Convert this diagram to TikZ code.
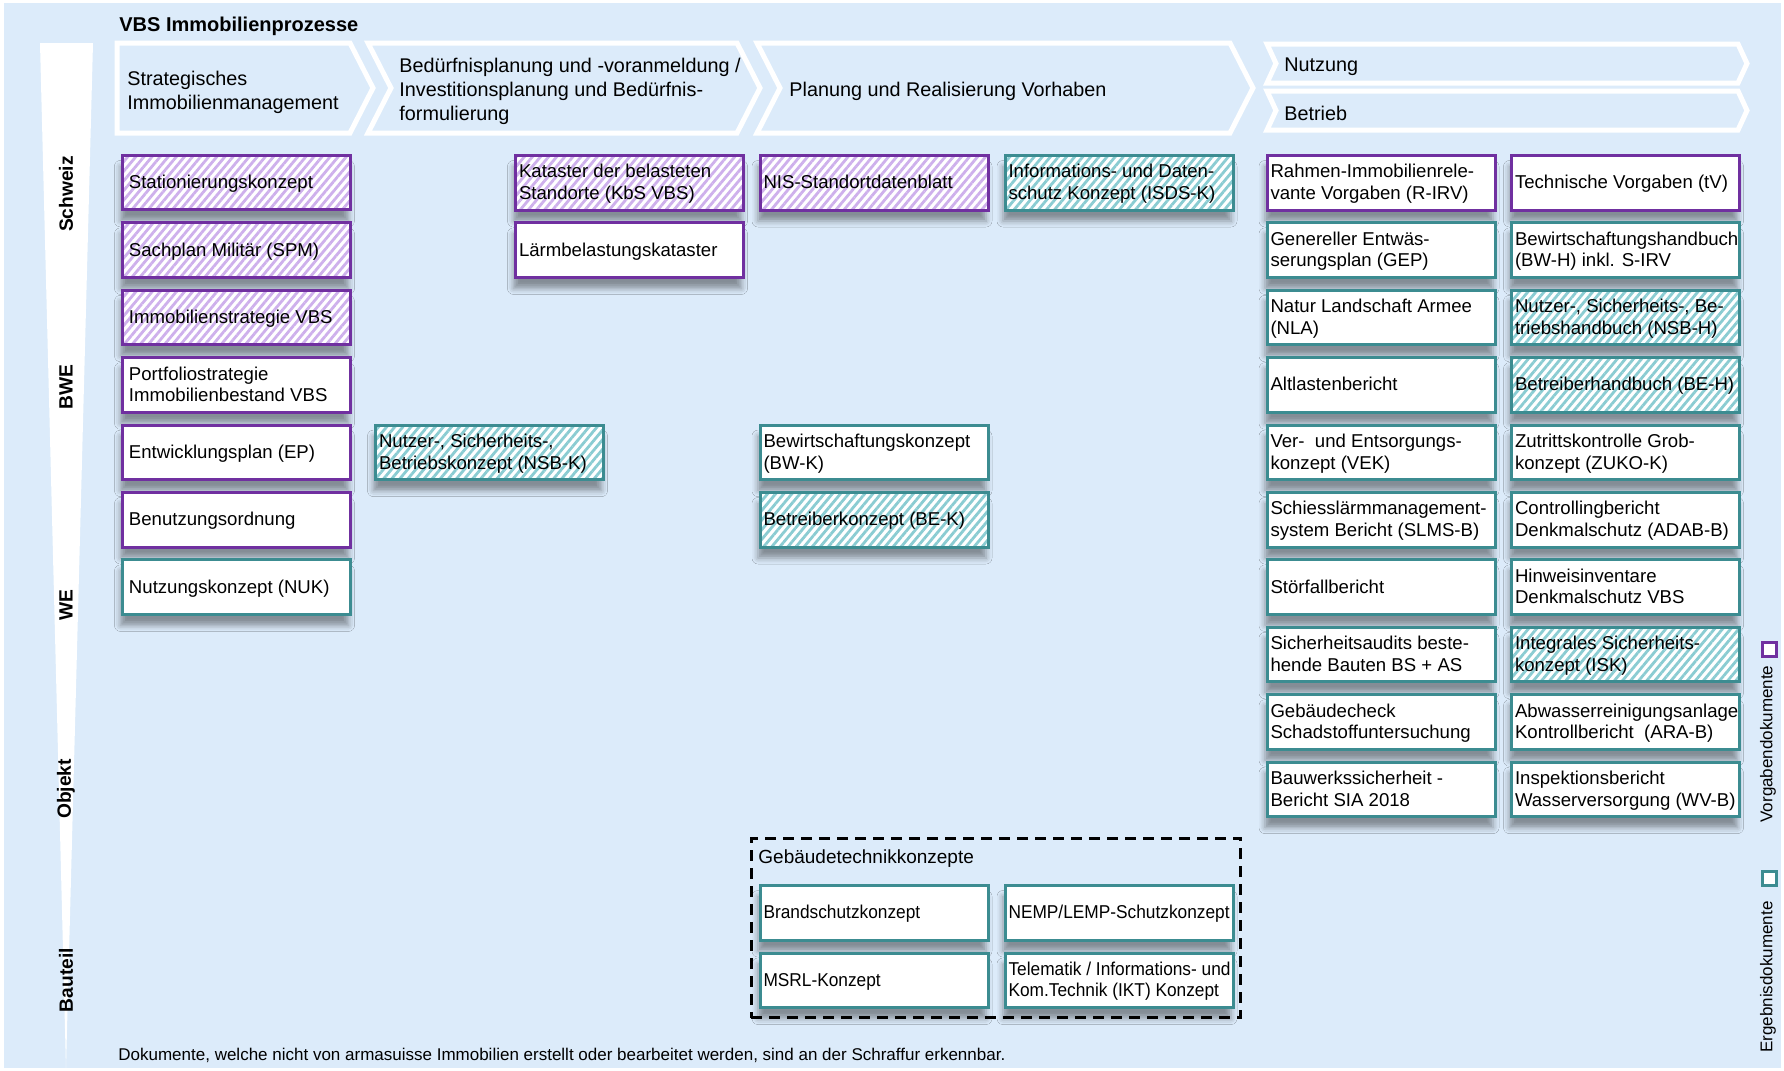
\documentclass[tikz,border=0pt]{standalone}
\usepackage{fontspec}
\setmainfont{Liberation Sans}
\usetikzlibrary{patterns.meta,shadows.blur}
\definecolor{bgblue}{RGB}{220,235,250}
\definecolor{vpurple}{HTML}{7030A0}
\definecolor{phatch}{RGB}{206,176,236}
\definecolor{vteal}{RGB}{60,140,145}
\definecolor{thatch}{RGB}{138,204,210}
\newcommand\docpad{0pt}
\newcommand\docsc{1}
\newcommand\doctext[1]{\raisebox{0pt}[\dimexpr\height+1.6pt\relax][\depth]{\makebox[110.5pt][l]{\hspace*{\docpad}\scalebox{\docsc}[1]{\begin{tabular}{@{}l@{}}#1\end{tabular}}}}}
\tikzset{
  doc/.style={draw, line width=1.5pt, minimum width=114pt, minimum height=27.25pt,
    inner xsep=1.75pt, inner ysep=0pt, anchor=north west,
    font=\fontsize{9.3}{10.8}\selectfont,
    blur shadow={shadow xshift=-1pt, shadow yshift=-5.5pt, shadow blur radius=3pt, shadow opacity=40}},
  pw/.style={doc, draw=vpurple, fill=white},
  ph/.style={doc, draw=vpurple, preaction={fill=white},
    pattern={Lines[angle=50,distance=3.1pt,line width=1.4pt]}, pattern color=phatch},
  tw/.style={doc, draw=vteal, fill=white},
  th/.style={doc, draw=vteal, preaction={fill=white},
    pattern={Lines[angle=50,distance=3.1pt,line width=1.4pt]}, pattern color=thatch},
  acol/.style={execute at begin node={\def\docpad{1.5pt}}},
  cond/.style={execute at begin node={\def\docsc{0.93}}},
  chev/.style={draw=white, line width=2.5pt, fill=bgblue, line join=miter},
  hdr/.style={anchor=west, align=left, inner sep=0pt, font=\fontsize{9.9}{12}\selectfont},
  lvl/.style={rotate=90, inner sep=0pt, font=\bfseries\fontsize{9.6}{11}\selectfont},
  legtxt/.style={rotate=90, inner sep=0pt, font=\fontsize{8.5}{10}\selectfont}
}
\begin{document}
\begin{tikzpicture}[x=0.5pt,y=-0.5pt]
\useasboundingbox (0,0) rectangle (1784,1071);
\fill[white] (0,0) rectangle (1784,1071);
\fill[bgblue] (4,3) rectangle (1781,1068);
% level band
\fill[white] (40,43) -- (93,43) -- (66,1068) -- cycle;
\node[lvl] (lschweiz) at (66,194) {Schweiz};
\node[lvl] (lbwe) at (66,387) {BWE};
\node[lvl] (lwe) at (66,605) {WE};
\node[lvl] (lobjekt) at (66,789) {Objekt};
\node[lvl] (lbauteil) at (66,980) {Bauteil};
% title
\node[anchor=west, inner sep=0pt, font=\bfseries\fontsize{10}{12}\selectfont] (title) at (119,26) {VBS Immobilienprozesse};
% chevrons
\draw[chev] (117,43) -- (350,43) -- (373,88) -- (350,133) -- (117,133) -- cycle;
\draw[chev] (368,43) -- (737,43) -- (760,88) -- (737,133) -- (368,133) -- (391,88) -- cycle;
\draw[chev] (757,43) -- (1230,43) -- (1253,88) -- (1230,133) -- (757,133) -- (780,88) -- cycle;
\draw[chev] (1267,44) -- (1738,44) -- (1747,63.5) -- (1738,83) -- (1267,83) -- (1276,63.5) -- cycle;
\draw[chev] (1267,91) -- (1738,91) -- (1747,110.5) -- (1738,130) -- (1267,130) -- (1276,110.5) -- cycle;
\node[hdr] (h1) at (127,92) {Strategisches\\Immobilienmanagement};
\node[hdr] (h2) at (399,91) {Bedürfnisplanung und -voranmeldung /\\Investitionsplanung und Bedürfnis-\\formulierung};
\node[hdr] (h3) at (789,91.5) {Planung und Realisierung Vorhaben};
\node[hdr] (h4) at (1284,67) {Nutzung};
\node[hdr] (h5) at (1284,113.5) {Betrieb};
% column A
\node[ph,acol] (stat) at (121,154) {\doctext{Stationierungskonzept}};
\node[ph,acol] (spm) at (121,221.4) {\doctext{Sachplan Militär (SPM)}};
\node[ph,acol] (istrat) at (121,288.8) {\doctext{Immobilienstrategie VBS}};
\node[pw,acol] (pstrat) at (121,356.2) {\doctext{Portfoliostrategie\\Immobilienbestand VBS}};
\node[pw,acol] (ep) at (121,423.6) {\doctext{Entwicklungsplan (EP)}};
\node[pw,acol] (bo) at (121,491) {\doctext{Benutzungsordnung}};
\node[tw,acol] (nuk) at (121,558.4) {\doctext{Nutzungskonzept (NUK)}};
% column B
\node[th] (nsbk) at (374,423.6) {\doctext{Nutzer-, Sicherheits-,\\Betriebskonzept (NSB-K)}};
% column C
\node[ph] (kbs) at (514,154) {\doctext{Kataster der belasteten\\Standorte (KbS VBS)}};
\node[pw] (laerm) at (514,221.4) {\doctext{Lärmbelastungskataster}};
% column D
\node[ph] (nis) at (758.5,154) {\doctext{NIS-Standortdatenblatt}};
\node[tw] (bwk) at (758.5,423.6) {\doctext{Bewirtschaftungskonzept\\(BW-K)}};
\node[th] (bek) at (758.5,491) {\doctext{Betreiberkonzept (BE-K)}};
% column E
\node[th] (isds) at (1003.5,154) {\doctext{Informations- und Daten-\\schutz Konzept (ISDS-K)}};
% column F
\node[pw] (rirv) at (1265.5,154) {\doctext{Rahmen-Immobilienrele-\\vante Vorgaben (R-IRV)}};
\node[tw] (gep) at (1265.5,221.4) {\doctext{Genereller Entwäs-\\serungsplan (GEP)}};
\node[tw] (nla) at (1265.5,288.8) {\doctext{Natur Landschaft Armee\\(NLA)}};
\node[tw] (altl) at (1265.5,356.2) {\doctext{Altlastenbericht}};
\node[tw] (vek) at (1265.5,423.6) {\doctext{Ver-\ \ und Entsorgungs-\\konzept (VEK)}};
\node[tw] (slms) at (1265.5,491) {\doctext{Schiesslärmmanagement-\\system Bericht (SLMS-B)}};
\node[tw] (stoer) at (1265.5,558.4) {\doctext{Störfallbericht}};
\node[tw] (audit) at (1265.5,625.8) {\doctext{Sicherheitsaudits beste-\\hende Bauten BS + AS}};
\node[tw] (gcheck) at (1265.5,693.2) {\doctext{Gebäudecheck\\Schadstoffuntersuchung}};
\node[tw] (sia) at (1265.5,760.6) {\doctext{Bauwerkssicherheit -\\Bericht SIA 2018}};
% column G
\node[pw] (tv) at (1510,154) {\doctext{Technische Vorgaben (tV)}};
\node[tw] (bwh) at (1510,221.4) {\doctext{Bewirtschaftungshandbuch\\(BW-H) inkl. S-IRV}};
\node[th] (nsbh) at (1510,288.8) {\doctext{Nutzer-, Sicherheits-, Be-\\triebshandbuch (NSB-H)}};
\node[th] (beh) at (1510,356.2) {\doctext{Betreiberhandbuch (BE-H)}};
\node[tw] (zuko) at (1510,423.6) {\doctext{Zutrittskontrolle Grob-\\konzept (ZUKO-K)}};
\node[tw] (adab) at (1510,491) {\doctext{Controllingbericht\\Denkmalschutz (ADAB-B)}};
\node[tw] (hinv) at (1510,558.4) {\doctext{Hinweisinventare\\Denkmalschutz VBS}};
\node[th] (isk) at (1510,625.8) {\doctext{Integrales Sicherheits-\\konzept (ISK)}};
\node[tw] (ara) at (1510,693.2) {\doctext{Abwasserreinigungsanlage\\Kontrollbericht\ \ (ARA-B)}};
\node[tw] (wvb) at (1510,760.6) {\doctext{Inspektionsbericht\\Wasserversorgung (WV-B)}};
% Gebaeudetechnik
\node[draw=black, line width=1.3pt, dash pattern=on 5.5pt off 3.5pt, anchor=north west,
  minimum width=244.7pt, minimum height=89.7pt, inner sep=0pt] (gtk) at (750,837) {};
\node[anchor=west, inner sep=0pt, font=\fontsize{9.5}{11}\selectfont] (gtkl) at (758,859) {Gebäudetechnikkonzepte};
\node[tw,cond] (brand) at (758.5,884) {\doctext{Brandschutzkonzept}};
\node[tw,cond] (nemp) at (1003.5,884) {\doctext{NEMP/LEMP-Schutzkonzept}};
\node[tw,cond] (msrl) at (758.5,951.5) {\doctext{MSRL-Konzept}};
\node[tw,cond] (ikt) at (1003.5,951.5) {\doctext{Telematik / Informations- und\\Kom.Technik (IKT) Konzept}};
% legend
\node[draw=vpurple, fill=white, line width=1.3pt, minimum size=7.2pt, inner sep=0pt] (legp) at (1769.5,649.5) {};
\node[legtxt] (legpt) at (1768,744) {Vorgabendokumente};
\node[draw=vteal, fill=white, line width=1.3pt, minimum size=7.2pt, inner sep=0pt] (legt) at (1769.5,878.5) {};
\node[legtxt] (legtt) at (1768,977) {Ergebnisdokumente};
% footer
\node[anchor=west, inner sep=0pt, font=\fontsize{8.5}{10}\selectfont] (foot) at (118,1055) {Dokumente, welche nicht von armasuisse Immobilien erstellt oder bearbeitet werden, sind an der Schraffur erkennbar.};
\end{tikzpicture}
\end{document}
